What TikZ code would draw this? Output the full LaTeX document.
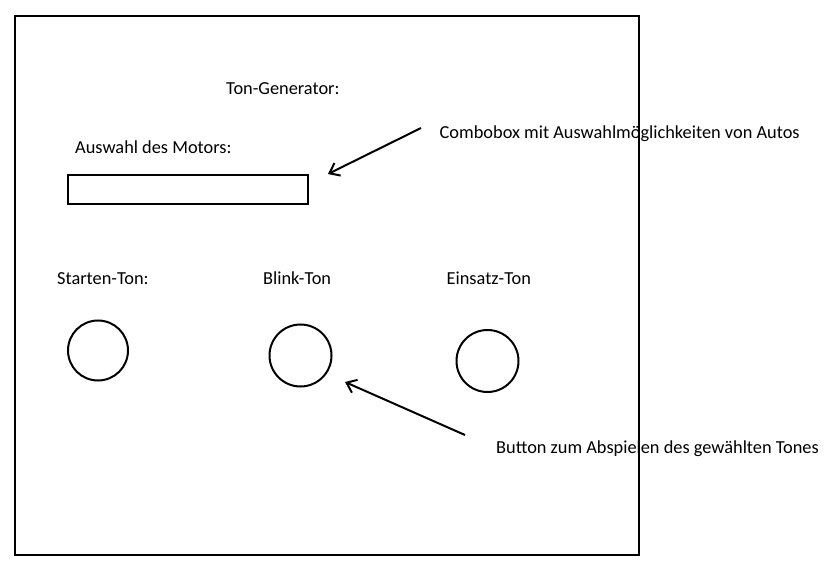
\documentclass[tikz,border=0pt]{standalone}
\usepackage{fontspec}
\setmainfont{Carlito}
\usetikzlibrary{arrows.meta}
\begin{document}
\begin{tikzpicture}[x=1pt,y=-1pt,
  lbl/.style={inner sep=0pt,anchor=base west,font=\fontsize{18.35}{20}\selectfont},
  ptr/.style={line width=2pt,-{Straight Barb[length=9pt,width=14pt,line width=2pt]}},
  outl/.style={draw,line width=2pt}]
\useasboundingbox (0,0) rectangle (836,567);
\node[lbl] (ton) at (226,95) {Ton-Generator:};
\node[lbl] (aus) at (75,154) {Auswahl des Motors:};
\node[outl,minimum width=240pt,minimum height=29pt,inner sep=0pt] (combo) at (188,189.5) {};
\node[lbl] (combotxt) at (439.5,139) {Combobox mit Auswahlmöglichkeiten von Autos};
\node[lbl] (start) at (57,284) {Starten-Ton:};
\node[lbl] (blink) at (263,284) {Blink-Ton};
\node[lbl] (einsatz) at (446.5,284) {Einsatz-Ton};
\node[outl,circle,minimum size=60pt,inner sep=0pt] (c1) at (98,350.5) {};
\node[outl,circle,minimum size=62pt,inner sep=0pt] (c2) at (300.5,355.5) {};
\node[outl,circle,minimum size=62pt,inner sep=0pt] (c3) at (487.5,361) {};
\node[lbl] (buttontxt) at (496,453) {Button zum Abspielen des gewählten Tones};
\coordinate (a1s) at (421,128);
\coordinate (a1e) at (328,174);
\coordinate (a2s) at (465,435);
\coordinate (a2e) at (345,382);
\draw[ptr] (a1s) -- (a1e);
\draw[ptr] (a2s) -- (a2e);
\node[draw,line width=2pt,minimum width=624pt,minimum height=539pt,inner sep=0pt] (frame) at (327,285.5) {};
\end{tikzpicture}
\end{document}
